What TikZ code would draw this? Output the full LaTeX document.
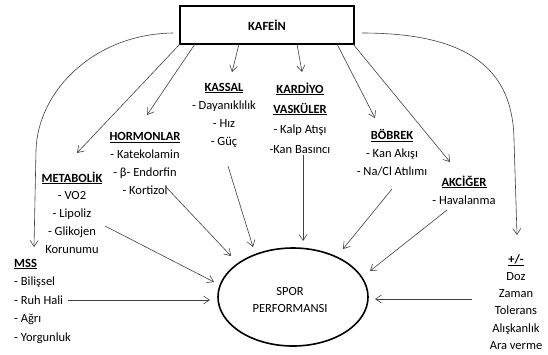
\documentclass[tikz,border=0pt]{standalone}
\usepackage{fontspec}
\setmainfont{Carlito}
\usetikzlibrary{arrows.meta,shapes.geometric}
\newcommand\headu[1]{\underline{\textbf{#1}}}
\begin{document}
\begin{tikzpicture}[x=1pt,y=-1pt,
  lbl/.style={align=center, inner sep=0pt, font=\fontsize{12.5}{18}\selectfont},
  conn/.style={draw=black!75, line width=0.6pt, -{Straight Barb[length=6pt,width=8pt]}},
  bigbox/.style={draw=black, line width=1.7pt, minimum width=174pt, minimum height=38pt, inner sep=0pt, font=\fontsize{12.5}{15}\selectfont\bfseries},
  perf/.style={ellipse, draw=black, line width=1.6pt, minimum width=150pt, minimum height=98pt, inner sep=0pt}
]
\useasboundingbox[fill=white] (0,0) rectangle (548,354);

% main nodes
\node[bigbox] (kafein) at (267,25) {KAFEİN};
\node[perf] (spor) at (293,297) {};
\node[lbl, font=\fontsize{12.5}{17}\selectfont] (sportxt) at (290,300) {SPOR\\PERFORMANSI};

% category texts
\node[lbl] (kassal) at (224,115) {\headu{KASSAL}\\- Dayanıklılık\\- Hız\\- Güç};
\node[lbl, font=\fontsize{12.5}{20}\selectfont] (kardiyo) at (300,118) {\headu{KARDİYO}\\\headu{VASKÜLER}\\- Kalp Atışı\\-Kan Basıncı};
\node[lbl] (hormon) at (145,163.5) {\headu{HORMONLAR}\\- Katekolamin\\- β- Endorfin\\- Kortizol};
\node[lbl, font=\fontsize{12.5}{17.8}\selectfont] (metab) at (72,212.5) {\headu{METABOLİK}\\- VO2\\- Lipoliz\\- Glikojen\\Korunumu};
\node[lbl, align=left, anchor=west, font=\fontsize{12.5}{18.5}\selectfont] (mss) at (14,301) {\headu{MSS}\\- Bilişsel\\- Ruh Hali\\- Ağrı\\- Yorgunluk};
\node[lbl] (bobrek) at (392,153) {\headu{BÖBREK}\\- Kan Akışı\\- Na/Cl Atılımı};
\node[lbl] (akciger) at (464,190) {\headu{AKCİĞER}\\- Havalanma};
\node[lbl, font=\fontsize{12.5}{17.2}\selectfont] (plusminus) at (516,302) {\headu{+/-}\\Doz\\Zaman\\Tolerans\\Alışkanlık\\Ara verme};

% connector end points
\coordinate (k1) at (180,44);  \coordinate (e1) at (77,153);
\coordinate (k2) at (195,44);  \coordinate (e2) at (147,115);
\coordinate (k3) at (239,44);  \coordinate (e3) at (232,72);
\coordinate (k4) at (297,44);  \coordinate (e4) at (302,72);
\coordinate (k5) at (337,44);  \coordinate (e5) at (375,118);
\coordinate (k6) at (353,44);  \coordinate (e6) at (450,162);
\coordinate (kl) at (173,33);  \coordinate (lm) at (36,150); \coordinate (el) at (34,247);
\coordinate (kr) at (362,33);  \coordinate (rm) at (514,140); \coordinate (er) at (517,235);

\coordinate (s1) at (105,226); \coordinate (t1) at (214,282);
\coordinate (s2) at (166,187); \coordinate (t2) at (231,256);
\coordinate (s3) at (228,166); \coordinate (t3) at (253,247);
\coordinate (s4) at (303,155); \coordinate (t4) at (303,241);
\coordinate (s5) at (392,189); \coordinate (t5) at (343,249);
\coordinate (s6) at (447,210); \coordinate (t6) at (370,271);
\coordinate (s7) at (68,300);  \coordinate (t7) at (210,300);
\coordinate (s8) at (472,299); \coordinate (t8) at (375,299);

% arrows from KAFEIN
\draw[conn] (k1) -- (e1);
\draw[conn] (k2) -- (e2);
\draw[conn] (k3) -- (e3);
\draw[conn] (k4) -- (e4);
\draw[conn] (k5) -- (e5);
\draw[conn] (k6) -- (e6);
\draw[conn] (kl) .. controls (95,34) and (38,90) .. (lm) -- (el);
\draw[conn] (kr) .. controls (470,33) and (513,70) .. (rm) -- (er);

% arrows into SPOR PERFORMANSI
\draw[conn] (s1) -- (t1);
\draw[conn] (s2) -- (t2);
\draw[conn] (s3) -- (t3);
\draw[conn] (s4) -- (t4);
\draw[conn] (s5) -- (t5);
\draw[conn] (s6) -- (t6);
\draw[conn] (s7) -- (t7);
\draw[conn] (s8) -- (t8);
\end{tikzpicture}
\end{document}
